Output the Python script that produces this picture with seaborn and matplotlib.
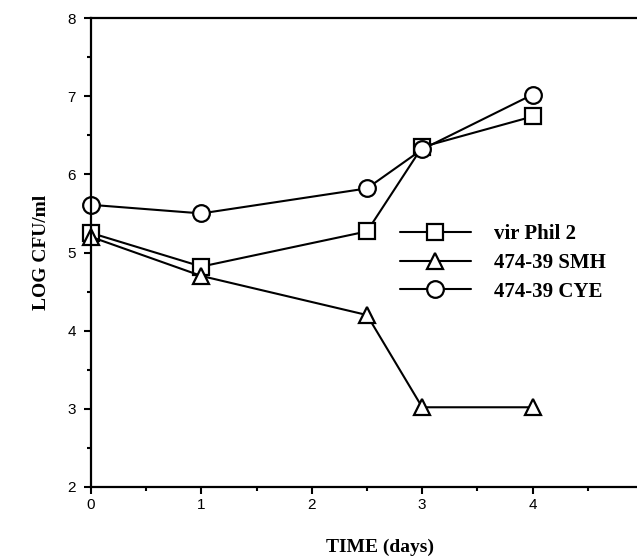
import pandas as pd
import matplotlib.pyplot as plt
import seaborn as sns
from matplotlib.ticker import MultipleLocator

# data
days = [0, 1, 2.5, 3, 4]
vir_phil2 = [5.25, 4.82, 5.27, 6.35, 6.74]
smh_47439 = [5.20, 4.70, 4.20, 3.02, 3.02]
cye_47439 = [5.61, 5.50, 5.82, 6.32, 7.02]

series = {
    "vir Phil 2": (vir_phil2, "s"),
    "474-39 SMH": (smh_47439, "^"),
    "474-39 CYE": (cye_47439, "o"),
}

sns.set_style("white")
plt.rcParams["font.family"] = ["Liberation Sans", "DejaVu Sans"]
plt.rcParams["text.color"] = "black"
plt.rcParams["xtick.color"] = "black"
plt.rcParams["ytick.color"] = "black"
plt.rcParams["axes.labelcolor"] = "black"

fig = plt.figure(figsize=(6.37, 5.59), dpi=100)
ax = fig.add_axes([91 / 637, 72 / 559, 552 / 637, 469 / 559])

for name, (vals, mk) in series.items():
    df = pd.DataFrame({"day": days, "log_cfu": vals})
    sns.lineplot(data=df, x="day", y="log_cfu", ax=ax, color="black",
                 marker=mk, markersize=11 if mk != "o" else 12,
                 markerfacecolor="white", markeredgecolor="black",
                 markeredgewidth=1.6, linewidth=1.5, label=name,
                 clip_on=False)

ax.set_xlim(0, 5)
ax.set_ylim(2, 8)
ax.xaxis.set_major_locator(MultipleLocator(1))
ax.xaxis.set_minor_locator(MultipleLocator(0.5))
ax.yaxis.set_major_locator(MultipleLocator(1))
ax.yaxis.set_minor_locator(MultipleLocator(0.5))
ax.tick_params(which="major", direction="out", length=5, width=1.5,
               labelsize=11, bottom=True, left=True)
ax.tick_params(axis="y", which="major", pad=6)
ax.tick_params(axis="x", which="major", pad=3)
ax.tick_params(which="minor", direction="out", length=3, width=1.5,
               bottom=True, left=True)
for s in ["left", "bottom", "top", "right"]:
    ax.spines[s].set_linewidth(1.6)
    ax.spines[s].set_color("black")

lab = dict(family="Liberation Serif", fontweight="bold", fontsize=14,
           color="black")
ax.set_xlabel("TIME (days)", **lab)
ax.set_ylabel("LOG CFU/ml", **lab)
ax.xaxis.set_label_coords(0.524, -0.11)
ax.yaxis.set_label_coords(-0.075, 0.5)

leg = ax.legend(loc="center left", bbox_to_anchor=(400 / 637, 1 - 263 / 559),
                bbox_transform=fig.transFigure, frameon=False, borderpad=0,
                borderaxespad=0, handlelength=3.4, handletextpad=1.1,
                labelspacing=0.42, prop=dict(family="Liberation Serif",
                                             weight="bold", size=15))

fig.savefig("out.png", dpi=100)
